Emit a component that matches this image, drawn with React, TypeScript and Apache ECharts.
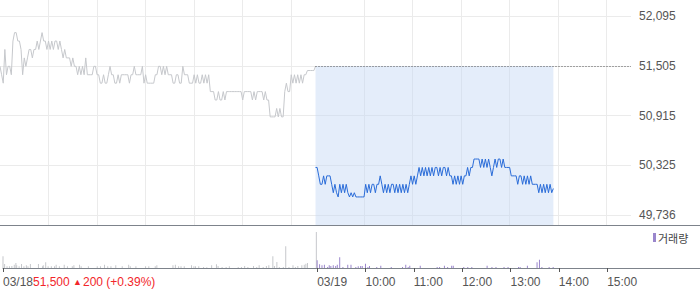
import { useEffect, useRef } from 'react';
import * as echarts from 'echarts';

// ---------- data ----------
const STEP_MIN = 2; // minutes between price points
const TODAY_START_MIN = 390; // 03/19 09:00 on the continuous axis
const TOTAL_MIN = 780; // two sessions of 6.5 h

const PREV_DAY_PRICES = [
  51500, 51400, 51300, 51700, 51400, 51500, 51500, 51400, 51800, 51900,
  51900, 51800, 51800, 51700, 51400, 51600, 51500, 51600, 51700, 51700,
  51600, 51700, 51700, 51800, 51700, 51800, 51900, 51800, 51800, 51700,
  51800, 51700, 51800, 51700, 51800, 51800, 51700, 51800, 51700, 51600,
  51700, 51600, 51600, 51600, 51500, 51600, 51500, 51500, 51400, 51500,
  51400, 51500, 51400, 51600, 51400, 51400, 51400, 51400, 51500, 51500,
  51400, 51400, 51300, 51300, 51400, 51300, 51300, 51400, 51500, 51400,
  51400, 51300, 51300, 51400, 51300, 51400, 51400, 51400, 51400, 51400,
  51300, 51400, 51400, 51500, 51400, 51400, 51400, 51400, 51500, 51300,
  51400, 51300, 51300, 51300, 51300, 51300, 51400, 51400, 51500, 51500,
  51400, 51500, 51400, 51500, 51400, 51400, 51400, 51300, 51300, 51400,
  51400, 51300, 51300, 51500, 51400, 51400, 51400, 51300, 51300, 51300,
  51400, 51300, 51400, 51300, 51300, 51400, 51300, 51400, 51300, 51400,
  51200, 51200, 51200, 51100, 51100, 51200, 51100, 51100, 51200, 51100,
  51200, 51200, 51200, 51200, 51200, 51200, 51200, 51200, 51200, 51200,
  51100, 51200, 51200, 51200, 51200, 51200, 51100, 51200, 51100, 51200,
  51200, 51200, 51200, 51100, 51200, 51100, 51100, 50900, 50900, 50900,
  50900, 51000, 50900, 51000, 50900, 50900, 51200, 51300, 51200, 51200,
  51400, 51300, 51400, 51300, 51400, 51300, 51400, 51300, 51400, 51400,
  51450, 51450, 51450, 51450, 51450, 51500,
];

const TODAY_PRICES = [
  50300, 50300, 50200, 50100, 50100, 50200, 50100, 50200, 50200, 50200,
  50100, 50000, 50100, 50000, 49950, 50100, 50000, 50100, 50000, 50100,
  50000, 49950, 50000, 49950, 50000, 49950, 49950, 49950, 49950, 49950,
  49950, 50100, 50000, 50100, 50000, 50100, 50100, 50000, 50100, 50100,
  50200, 50100, 50000, 50100, 50000, 50100, 50000, 50100, 50100, 50000,
  50100, 50000, 50100, 50000, 50100, 50000, 50100, 50000, 50100, 50200,
  50100, 50200, 50100, 50200, 50300, 50200, 50300, 50200, 50300, 50200,
  50300, 50200, 50300, 50200, 50300, 50300, 50200, 50300, 50200, 50300,
  50300, 50200, 50300, 50200, 50200, 50100, 50200, 50100, 50200, 50100,
  50200, 50100, 50200, 50200, 50300, 50200, 50300, 50300, 50400, 50400,
  50400, 50400, 50300, 50400, 50300, 50400, 50300, 50400, 50300, 50200,
  50300, 50400, 50300, 50400, 50400, 50300, 50400, 50300, 50300, 50300,
  50300, 50200, 50200, 50200, 50200, 50100, 50200, 50200, 50100, 50200,
  50100, 50200, 50100, 50200, 50100, 50100, 50100, 50100, 50000, 50100,
  50000, 50100, 50000, 50100, 50000, 50100, 50000, 50050,
];

// [minute on continuous axis, volume (thousand shares)]
const PREV_DAY_VOLUME = [
  [0, 117], [2, 40], [5, 17], [8, 17], [11, 20], [14, 33], [16, 50], [17, 27],
  [20, 17], [23, 40], [26, 17], [29, 27], [31, 17], [34, 40], [44, 40], [49, 17],
  [50, 27], [53, 57], [56, 17], [60, 17], [64, 17], [66, 33], [70, 17], [76, 33],
  [80, 17], [86, 17], [88, 27], [95, 33], [97, 17], [106, 17], [117, 17], [121, 17],
  [126, 33], [130, 17], [134, 17], [140, 27], [148, 17], [156, 33], [158, 17], [165, 17],
  [177, 17], [181, 17], [189, 17], [191, 27], [211, 27], [214, 33], [218, 17], [221, 17],
  [225, 17], [234, 27], [237, 17], [239, 17], [243, 17], [249, 10], [253, 7], [259, 27],
  [265, 37], [267, 20], [272, 10], [277, 10], [281, 17], [292, 10], [296, 10], [300, 20],
  [304, 10], [311, 20], [315, 10], [318, 27], [323, 10], [327, 20], [330, 27], [335, 117],
  [337, 20], [340, 60], [343, 10], [348, 10], [351, 217], [355, 10], [360, 27], [363, 10],
  [366, 20], [371, 27], [374, 33], [376, 43], [378, 50], [389, 360],
];

const TODAY_VOLUME = [
  [390, 77], [393, 37], [396, 27], [399, 33], [403, 10], [405, 27], [407, 20], [410, 27],
  [413, 20], [415, 33], [418, 107], [422, 10], [428, 33], [432, 33], [438, 10], [441, 17],
  [444, 20], [446, 20], [450, 43], [453, 10], [455, 20], [464, 10], [469, 23], [482, 10],
  [496, 10], [500, 33], [503, 10], [505, 23], [518, 23], [539, 10], [542, 10], [548, 23],
  [552, 10], [557, 23], [559, 23], [572, 10], [577, 10], [582, 10], [601, 23], [607, 10],
  [612, 10], [622, 10], [627, 10], [640, 10], [642, 10], [651, 23], [663, 57], [666, 83],
  [669, 10], [678, 10], [683, 10],
];

const PRICE_TICKS = [49736, 50325, 50915, 51505, 52095];
const PREV_CLOSE_LINE = 51505;
const HOUR_GRID_MINUTES = [60, 120, 180, 240, 300, 360, 450, 510, 570, 630, 690, 750];
const TIME_LABEL_MINUTES = [0, 390, 450, 510, 570, 630, 690, 750];
const TIME_LABELS = ['03/18', '03/19', '10:00', '11:00', '12:00', '13:00', '14:00', '15:00'];
const CLOSE_TEXT = '51,500';
const CHANGE_TEXT = '200 (+0.39%)';
const VOLUME_NAME = '거래량';

// ---------- layout ----------
const W = 700;
const H = 289;
const MAIN_W = 631;
const MAIN_H = 225;
const Y_MIN = 49617;
const Y_MAX = 52287;
const FONT = '"Liberation Sans", Arial, sans-serif';

function buildOption() {
  const prevData = PREV_DAY_PRICES.map((p, i) => [i * STEP_MIN, p]);
  const todayData = TODAY_PRICES.map((p, i) => [TODAY_START_MIN + i * STEP_MIN, p]);
  const lastMin = TODAY_START_MIN + (TODAY_PRICES.length - 1) * STEP_MIN;

  return {
    animation: false,
    textStyle: { fontFamily: FONT },
    legend: {
      show: true,
      left: 648,
      top: 227,
      itemWidth: 3,
      itemHeight: 9,
      selectedMode: false,
      data: [{ name: VOLUME_NAME, icon: 'rect' }],
      textStyle: {
        fontFamily: '"Noto Sans CJK KR", sans-serif',
        fontSize: 11,
        color: '#444',
        padding: [0, 0, 0, -3],
      },
    },
    grid: [
      { left: 0, top: 0, width: MAIN_W, height: MAIN_H },
      { left: 0, top: 226, width: W, height: 42 },
    ],
    xAxis: [
      {
        type: 'value',
        gridIndex: 0,
        min: 0,
        max: TOTAL_MIN,
        axisLine: { show: false },
        axisTick: { show: false, customValues: HOUR_GRID_MINUTES },
        axisLabel: { show: false },
        splitLine: { show: true, lineStyle: { color: '#ebebeb', width: 1 } },
      },
      {
        type: 'value',
        gridIndex: 1,
        min: 0,
        max: (TOTAL_MIN * W) / MAIN_W,
        axisLine: { show: true, lineStyle: { color: '#7d838b', width: 1 } },
        axisTick: {
          show: true,
          length: 4,
          customValues: TIME_LABEL_MINUTES,
          lineStyle: { color: '#555' },
        },
        axisLabel: {
          show: true,
          customValues: TIME_LABEL_MINUTES,
          align: 'left',
          margin: 8,
          color: '#555',
          fontSize: 12,
          fontFamily: FONT,
          formatter: (v: number) => {
            const idx = TIME_LABEL_MINUTES.findIndex((m) => Math.abs(m - v) < 0.5);
            if (idx === 0) {
              return `${TIME_LABELS[0]}{r|${CLOSE_TEXT} }{t|▲}{r|${CHANGE_TEXT}}`;
            }
            return idx >= 0 ? TIME_LABELS[idx] : '';
          },
          rich: {
            r: { color: '#f2262a', fontSize: 12, fontFamily: FONT },
            t: { color: '#f2262a', fontSize: 9, fontFamily: FONT, padding: [0, 1, 0, 0] },
          },
        },
        splitLine: { show: false },
      },
    ],
    yAxis: [
      {
        type: 'value',
        gridIndex: 0,
        position: 'right',
        min: Y_MIN,
        max: Y_MAX,
        axisLine: { show: false },
        axisTick: { show: false, customValues: PRICE_TICKS },
        axisLabel: {
          show: true,
          customValues: PRICE_TICKS,
          margin: 8,
          color: '#555',
          fontSize: 12,
          fontFamily: FONT,
          formatter: (v: number) => Math.round(v).toLocaleString('en-US'),
        },
        splitLine: { show: true, lineStyle: { color: '#ebebeb', width: 1 } },
      },
      {
        type: 'value',
        gridIndex: 1,
        min: 0,
        max: 420,
        show: false,
        splitLine: { show: false },
      },
    ],
    graphic: [
      {
        type: 'line',
        shape: { x1: 0, y1: 225.5, x2: W, y2: 225.5 },
        style: { stroke: '#7d838b', lineWidth: 1 },
        silent: true,
        z: 10,
      },
    ],
    series: [
      {
        type: 'line',
        name: 'prev',
        xAxisIndex: 0,
        yAxisIndex: 0,
        data: prevData,
        showSymbol: false,
        symbol: 'none',
        lineStyle: { color: '#c6c8cc', width: 1 },
        z: 3,
      },
      {
        type: 'line',
        name: 'today',
        xAxisIndex: 0,
        yAxisIndex: 0,
        data: todayData,
        showSymbol: false,
        symbol: 'none',
        lineStyle: { color: '#2a6cd8', width: 1 },
        z: 4,
        markArea: {
          silent: true,
          itemStyle: { color: 'rgba(196, 214, 243, 0.45)' },
          data: [[{ coord: [TODAY_START_MIN, PREV_CLOSE_LINE] }, { coord: [lastMin, Y_MIN] }]],
        },
        markLine: {
          silent: true,
          symbol: ['none', 'none'],
          label: { show: false },
          lineStyle: { color: '#555', type: [1, 2], width: 1 },
          data: [[{ coord: [TODAY_START_MIN, PREV_CLOSE_LINE] }, { coord: [TOTAL_MIN, PREV_CLOSE_LINE] }]],
        },
      },
      {
        type: 'bar',
        name: 'prevVolume',
        xAxisIndex: 1,
        yAxisIndex: 1,
        data: PREV_DAY_VOLUME,
        barWidth: 1,
        itemStyle: { color: '#c6c8cc' },
      },
      {
        type: 'bar',
        name: VOLUME_NAME,
        xAxisIndex: 1,
        yAxisIndex: 1,
        data: TODAY_VOLUME,
        barWidth: 1,
        barGap: '-100%',
        itemStyle: { color: '#9a86cc' },
      },
    ],
  };
}

export default function App() {
  const ref = useRef<HTMLDivElement>(null);
  useEffect(() => {
    if (!ref.current) return;
    const chart = echarts.init(ref.current, null, { renderer: 'svg' });
    chart.setOption(buildOption() as any);
    return () => chart.dispose();
  }, []);
  return (
    <div
      ref={ref}
      style={{ position: 'absolute', left: 0, top: 0, width: W, height: H, background: '#fff' }}
    />
  );
}
